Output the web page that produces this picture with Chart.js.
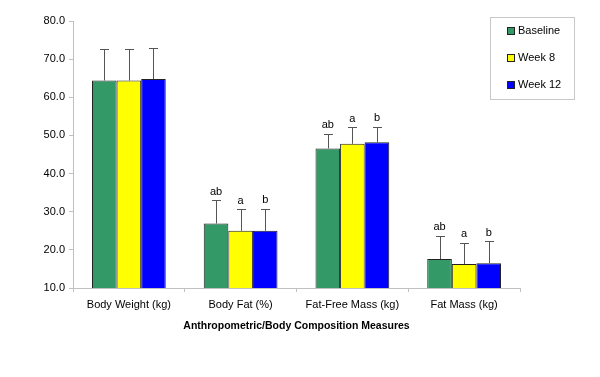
<!DOCTYPE html>
<html>
<head>
<meta charset="utf-8">
<script src="https://cdn.jsdelivr.net/npm/chart.js@4"></script>
<style>
  html, body { margin: 0; padding: 0; background: #fff; }
  #wrap { width: 600px; height: 377px; }
</style>
</head>
<body>
<div id="wrap"><canvas id="chart" width="600" height="377"></canvas></div>
<script>
const categories = ['Body Weight (kg)', 'Body Fat (%)', 'Fat-Free Mass (kg)', 'Fat Mass (kg)'];
const seriesNames = ['Baseline', 'Week 8', 'Week 12'];
const baseline = [64.4, 26.9, 46.6, 17.6];
const week8 = [64.4, 25.0, 47.8, 16.3];
const week12 = [64.8, 25.0, 48.2, 16.5];
const baselineSD = [8.2, 6.1, 3.9, 6.1];
const week8SD = [8.3, 5.7, 4.3, 5.6];
const week12SD = [8.1, 5.8, 4.1, 5.7];
const baselineLetters = ['', 'ab', 'ab', 'ab'];
const week8Letters = ['', 'a', 'a', 'a'];
const week12Letters = ['', 'b', 'b', 'b'];
const yTicks = [10, 20, 30, 40, 50, 60, 70, 80];
const xTitle = 'Anthropometric/Body Composition Measures';

const colors = ['#339966', '#ffff00', '#0000ff'];
const FONT = "'Liberation Sans', Arial, sans-serif";

const sds = [baselineSD, week8SD, week12SD];
const letters = [baselineLetters, week8Letters, week12Letters];

// error bars (upper only) + significance letters
const errorBars = {
  id: 'errorBars',
  afterDatasetsDraw(chart) {
    const ctx = chart.ctx;
    const y = chart.scales.y;
    chart.data.datasets.forEach((ds, di) => {
      const meta = chart.getDatasetMeta(di);
      meta.data.forEach((bar, i) => {
        const top = y.getPixelForValue(ds.data[i] + sds[di][i]);
        ctx.save();
        ctx.strokeStyle = '#555';
        ctx.lineWidth = 1;
        ctx.beginPath();
        ctx.moveTo(Math.round(bar.x) + 0.5, bar.y);
        ctx.lineTo(Math.round(bar.x) + 0.5, Math.round(top) + 0.5);
        ctx.moveTo(Math.round(bar.x) - 4, Math.round(top) + 0.5);
        ctx.lineTo(Math.round(bar.x) + 5, Math.round(top) + 0.5);
        ctx.stroke();
        const t = letters[di][i];
        if (t) {
          ctx.fillStyle = '#000';
          ctx.font = '11px ' + FONT;
          ctx.textAlign = 'center';
          ctx.textBaseline = 'bottom';
          ctx.fillText(t, bar.x, top - 3);
        }
        ctx.restore();
      });
    });
  }
};

// boxed legend on the right
const boxLegend = {
  id: 'boxLegend',
  afterDraw(chart) {
    const ctx = chart.ctx;
    ctx.save();
    ctx.strokeStyle = '#c8c8c8';
    ctx.lineWidth = 1;
    ctx.strokeRect(490.5, 17.5, 84, 82);
    ctx.font = '11px ' + FONT;
    ctx.textBaseline = 'middle';
    ctx.textAlign = 'left';
    seriesNames.forEach((name, i) => {
      const cy = 31 + i * 27;
      ctx.fillStyle = colors[i];
      ctx.fillRect(508, cy - 3, 6, 6);
      ctx.strokeStyle = '#222';
      ctx.strokeRect(507.5, cy - 3.5, 7, 7);
      ctx.fillStyle = '#000';
      ctx.fillText(name, 518, cy);
    });
    ctx.restore();
  }
};

new Chart(document.getElementById('chart'), {
  type: 'bar',
  data: {
    labels: categories,
    datasets: [baseline, week8, week12].map((d, i) => ({
      label: seriesNames[i],
      data: d,
      backgroundColor: colors[i],
      borderColor: '#222',
      borderWidth: 1,
      categoryPercentage: 0.66,
      barPercentage: 1
    }))
  },
  options: {
    responsive: false,
    animation: false,
    layout: { padding: { left: 0, right: 80, top: 21, bottom: 0 } },
    plugins: { legend: { display: false }, tooltip: { enabled: false } },
    scales: {
      x: {
        grid: { display: true, drawOnChartArea: false, offset: true, tickLength: 4, color: '#c0c0c0' },
        border: { color: '#c0c0c0' },
        ticks: { color: '#000', font: { family: FONT, size: 11 }, padding: 6, maxRotation: 0 },
        title: { display: true, text: xTitle, color: '#000', font: { family: FONT, size: 10.5, weight: 'bold' }, padding: { top: 0, bottom: 45 } },
        afterFit(s) { s.height = 89; }
      },
      y: {
        min: 10, max: 80,
        afterBuildTicks(s) { s.ticks = yTicks.map(v => ({ value: v })); },
        grid: { display: true, drawOnChartArea: false, tickLength: 4, color: '#c0c0c0' },
        border: { color: '#c0c0c0' },
        ticks: { color: '#000', font: { family: FONT, size: 11 }, padding: 4, callback: v => v.toFixed(1) },
        afterFit(s) { s.width = 73; }
      }
    }
  },
  plugins: [errorBars, boxLegend]
});
</script>
</body>
</html>
